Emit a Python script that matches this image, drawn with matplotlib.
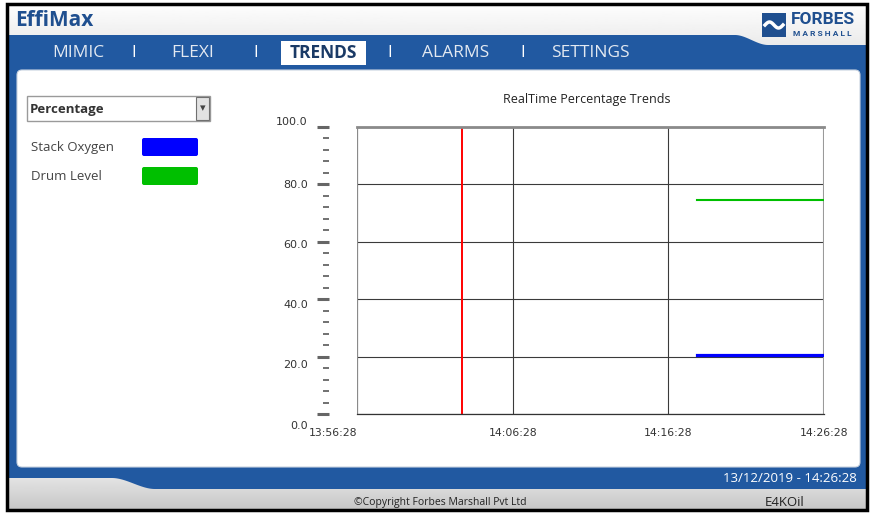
import numpy as np
import pandas as pd
import matplotlib.pyplot as plt
import matplotlib.dates as mdates
import matplotlib.transforms as mtransforms
from matplotlib.patches import FancyBboxPatch, Rectangle, Polygon
from matplotlib.ticker import MultipleLocator

# chart data
day = "2019-12-13 "
x_ticks = ["13:56:28", "14:06:28", "14:16:28", "14:26:28"]
y_ticks = [0, 20, 40, 60, 80, 100]
cursor_time = "14:03:12"
trend_time = ["14:18:18", "14:26:28"]
stack_oxygen = [20.6, 20.6]
drum_level = [74.5, 74.5]
series_names = ["Stack Oxygen", "Drum Level"]
series_colors = ["#0000ff", "#00bf00"]
nav_items = ["MIMIC", "FLEXI", "TRENDS", "ALARMS", "SETTINGS"]
nav_x = [78, 193, 323, 456, 590]
sep_x = [134, 256, 390, 523]

BLUE = "#2159a1"
DARK = "#1f4f8f"
UI_FONT = ["Open Sans", "DejaVu Sans"]

W, H = 871, 513
fig = plt.figure(figsize=(W / 100, H / 100), dpi=100)

# ---- background (pixel coordinates) ----
bg = fig.add_axes([0, 0, 1, 1])
bg.axis("off")

top_grad = np.linspace(0.99, 0.92, 40).reshape(-1, 1)
bg.imshow(top_grad, cmap="gray", vmin=0, vmax=1, extent=[8, 866, 46, 5],
          origin="upper", aspect="auto")
bot_grad = np.linspace(0.92, 0.78, 40).reshape(-1, 1)
bg.imshow(bot_grad, cmap="gray", vmin=0, vmax=1, extent=[8, 866, 509, 470],
          origin="upper", aspect="auto")


def smooth(x0, y0, x1, y1, n=30):
    t = np.linspace(0, 1, n)
    s = t * t * (3 - 2 * t)
    return np.column_stack([x0 + (x1 - x0) * t, y0 + (y1 - y0) * s])


pts = [[8, 35]]
pts += smooth(735, 35, 768, 45).tolist()
pts += [[866, 45], [866, 489]]
pts += smooth(155, 489, 112, 478).tolist()
pts += [[8, 478]]
bg.add_patch(Polygon(pts, closed=True, facecolor=BLUE, edgecolor="none"))

bg.add_patch(FancyBboxPatch((22, 75), 833, 387, boxstyle="round,pad=5",
                            facecolor="white", edgecolor="#c9d3e0", lw=0.8))
bg.add_patch(Rectangle((7, 4), 860, 506, fill=False, edgecolor="black", lw=2.5))

# title bar
bg.text(15, 20, "EffiMax", fontsize=15, fontweight="bold", color=DARK,
        va="center", family=UI_FONT)
bg.add_patch(Rectangle((762, 13), 24, 24, facecolor=DARK, edgecolor="none"))
wx = np.linspace(765, 783, 40)
bg.plot(wx, 25 - 6 * np.sin((wx - 765) / 18 * np.pi) * np.cos((wx - 765) / 18 * np.pi),
        color="white", lw=2.5)
bg.text(791, 20, "FORBES", fontsize=12.5, fontweight="bold", color=DARK,
        va="center", family=["Roboto", "DejaVu Sans"])
bg.text(793, 33, "M A R S H A L L", fontsize=6, fontweight="bold", color=DARK,
        va="center", family=["Roboto", "DejaVu Sans"])

# navigation bar
for name, x in zip(nav_items, nav_x):
    if name == "TRENDS":
        bg.add_patch(Rectangle((281, 41), 85, 24, facecolor="white", edgecolor="none"))
        bg.text(x, 53, name, fontsize=12.5, fontweight="bold", color="#1a3a66",
                ha="center", va="center", family=UI_FONT)
    else:
        bg.text(x, 53, name, fontsize=12.5, color="#e3e9f1",
                ha="center", va="center", family=UI_FONT)
for x in sep_x:
    bg.text(x, 53, "I", fontsize=12, color="white", ha="center", va="center",
            family=UI_FONT)

# dropdown
bg.add_patch(Rectangle((27, 96), 183, 25, facecolor="white", edgecolor="#9a9a9a", lw=1))
bg.add_patch(Rectangle((196, 97), 13, 23, facecolor="#e2e2e2", edgecolor="#707070", lw=0.8))
bg.text(203, 108, "▾", fontsize=8, color="#444", ha="center", va="center")
bg.text(30, 109, "Percentage", fontsize=9.5, fontweight="bold", color="#333",
        va="center", family=UI_FONT)

# legend
for i, (name, col) in enumerate(zip(series_names, series_colors)):
    y = 147 + i * 29
    bg.text(31, y, name, fontsize=9.5, color="#444", va="center", family=UI_FONT)
    bg.add_patch(FancyBboxPatch((144, y - 7), 52, 14, boxstyle="round,pad=2",
                                facecolor=col, edgecolor="none"))

bg.text(587, 99, "RealTime Percentage Trends", fontsize=9, color="#222",
        ha="center", va="center", family=UI_FONT)

# footer
bg.text(857, 479, "13/12/2019 - 14:26:28", fontsize=9.5, color="white",
        ha="right", va="center", family=UI_FONT)
bg.text(440, 502, "©Copyright Forbes Marshall Pvt Ltd", fontsize=7.5, color="#222",
        ha="center", va="center", family=UI_FONT)
bg.text(785, 502, "E4KOil", fontsize=9.5, color="#222", ha="center", va="center",
        family=UI_FONT)

bg.set_xlim(0, W)
bg.set_ylim(H, 0)

# ---- trend chart ----
ax = fig.add_axes([357 / W, (H - 414) / H, 467 / W, 287 / H])
ax.patch.set_alpha(0)
t_ticks = pd.to_datetime([day + t for t in x_ticks])
t_trend = pd.to_datetime([day + t for t in trend_time])
t_cursor = pd.to_datetime(day + cursor_time)

ax.set_xlim(t_ticks[0], t_ticks[-1])
ax.set_ylim(y_ticks[0], y_ticks[-1])

ax.grid(True, color="#3a3a3a", lw=0.8)
ax.axvline(t_ticks[0], color="#8a8a8a", lw=1.5)
ax.axvline(t_ticks[-1], color="#9a9a9a", lw=1.5)
ax.axvline(t_cursor, color="red", lw=1.4)
ax.plot(t_trend, drum_level, color=series_colors[1], lw=1.5)
ax.plot(t_trend, stack_oxygen, color=series_colors[0], lw=2.3)

for s in ["left", "right"]:
    ax.spines[s].set_visible(False)
ax.spines["top"].set_color("#8a8a8a")
ax.spines["top"].set_linewidth(2)
ax.spines["bottom"].set_color("#333")
ax.spines["bottom"].set_linewidth(0.9)
ax.spines["left"].set_position(("outward", 20))

ax.set_yticks(y_ticks)
ax.set_yticklabels([f"{v:.1f}" for v in y_ticks])
ax.yaxis.set_minor_locator(MultipleLocator(4))
ax.tick_params(axis="y", which="major", length=8.5, width=2.2, color="#666",
               pad=7, labelsize=8, labelcolor="#333")
ax.tick_params(axis="y", which="minor", length=4.3, width=1.3, color="#666")

# the screen draws the value labels a little off their ticks
label_shift = [-11, -7, -5, -2, 0, 6]
for lab, dy in zip(ax.get_yticklabels(), label_shift):
    lab.set_transform(lab.get_transform() +
                      mtransforms.ScaledTranslation(0, dy / 100, fig.dpi_scale_trans))

ax.set_xticks(t_ticks)
ax.xaxis.set_major_formatter(mdates.DateFormatter("%H:%M:%S"))
ax.tick_params(axis="x", length=0, pad=10, labelsize=7.8, labelcolor="#333")
ax.get_xticklabels()[0].set_ha("right")

fig.savefig("out.png", dpi=100)
